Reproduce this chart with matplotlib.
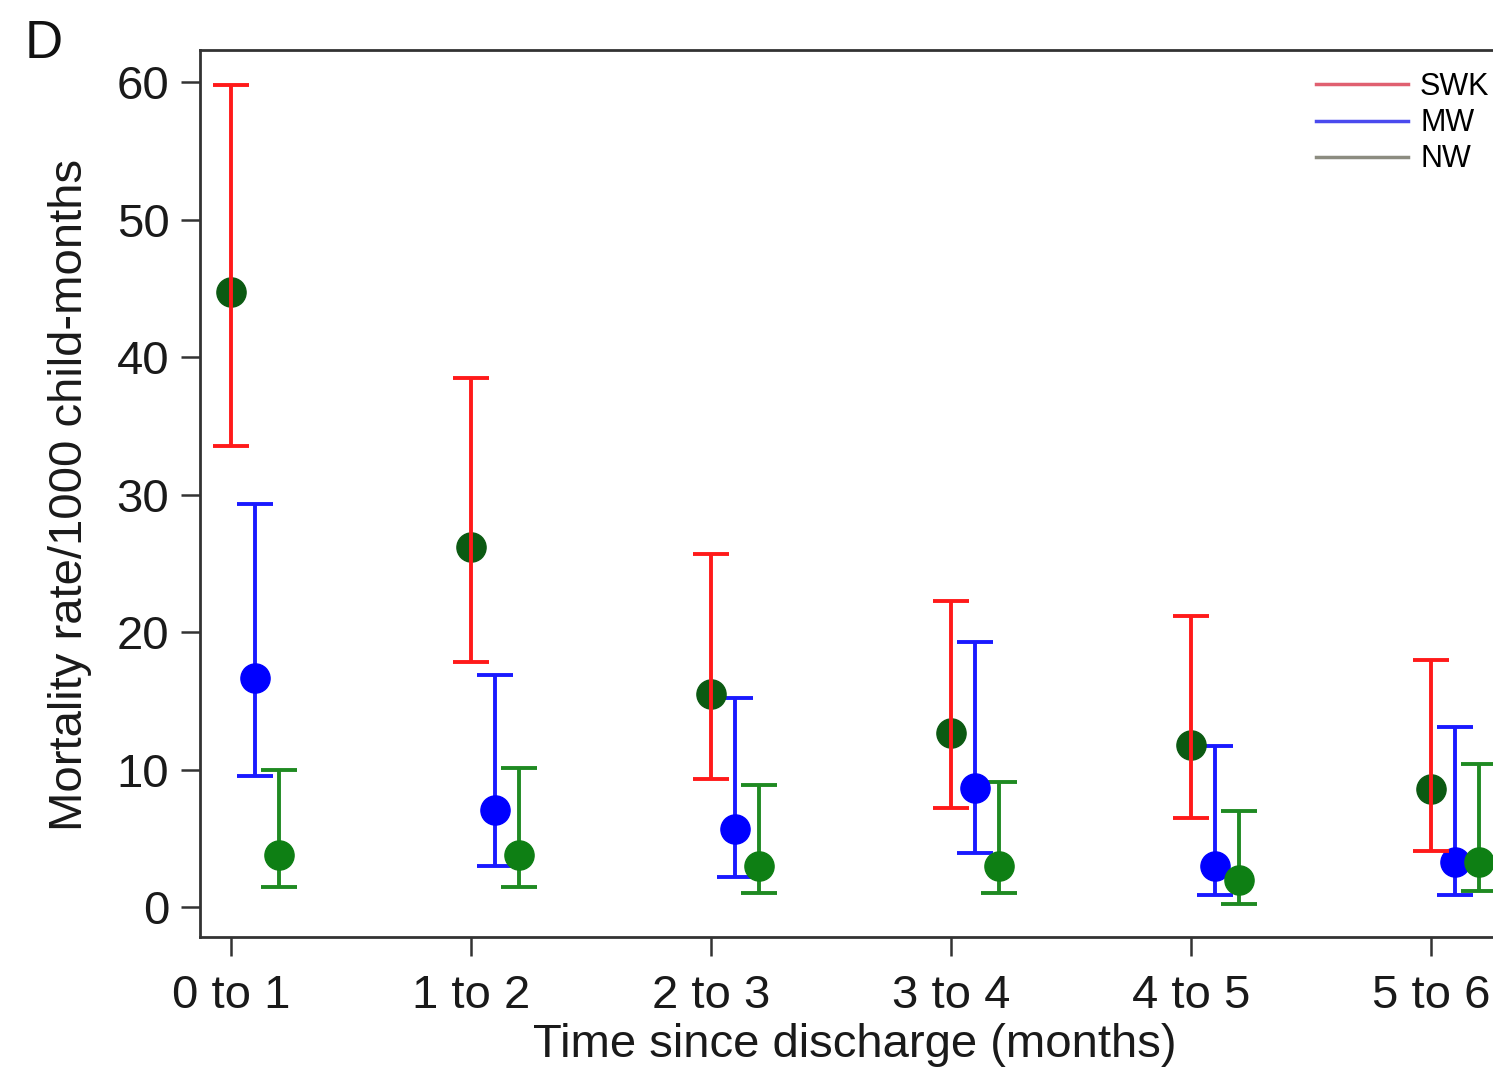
import matplotlib.pyplot as plt
from matplotlib.lines import Line2D

plt.rcParams['font.family'] = ['Liberation Sans', 'DejaVu Sans']

categories = ['0 to 1', '1 to 2', '2 to 3', '3 to 4', '4 to 5', '5 to 6']

swk_rate = [44.7, 26.2, 15.5, 12.65, 11.8, 8.6]
swk_low = [33.5, 17.8, 9.3, 7.2, 6.5, 4.1]
swk_high = [59.8, 38.5, 25.7, 22.25, 21.2, 18.0]

mw_rate = [16.65, 7.05, 5.7, 8.65, 3.0, 3.3]
mw_low = [9.5, 3.0, 2.2, 3.9, 0.9, 0.9]
mw_high = [29.3, 16.9, 15.2, 19.3, 11.7, 13.1]

nw_rate = [3.8, 3.8, 3.0, 3.0, 2.0, 3.3]
nw_low = [1.45, 1.45, 1.0, 1.0, 0.2, 1.2]
nw_high = [10.0, 10.1, 8.9, 9.1, 7.0, 10.4]

fig = plt.figure(figsize=(14.93, 10.75), dpi=100)
# axes runs past the right edge, as in the cropped original
ax = fig.add_axes([200 / 1493, 138 / 1075, 1360 / 1493, 887 / 1075])

x = list(range(len(categories)))

series = [
    (swk_rate, swk_low, swk_high, 0.0, '#ff1a1a', '#0b5a12'),
    (mw_rate, mw_low, mw_high, 0.1, '#1a1aff', '#0000ff'),
    (nw_rate, nw_low, nw_high, 0.2, '#1f8a22', '#0e7f14'),
]

for rate, low, high, off, bar_col, dot_col in series:
    xs = [i + off for i in x]
    err = [[r - l for r, l in zip(rate, low)], [h - r for h, r in zip(high, rate)]]
    ax.plot(xs, rate, 'o', color=dot_col, markersize=21, zorder=2)
    ax.errorbar(xs, rate, yerr=err, fmt='none', ecolor=bar_col, elinewidth=2.8,
                capsize=13, capthick=2.8, zorder=3 if off == 0.0 else 1)

ax.set_xlim(-0.129, 5.5375)
ax.set_ylim(-2.18, 62.33)
ax.set_xticks(x)
ax.set_xticklabels(categories)
ax.set_yticks([0, 10, 20, 30, 40, 50, 60])
ax.tick_params(axis='both', direction='out', length=14, width=1.8, colors='#333333',
               labelsize=34, labelcolor='#1a1a1a', pad=8)
ax.tick_params(axis='x', pad=13)
for side in ['left', 'bottom', 'top', 'right']:
    ax.spines[side].set_linewidth(2)
    ax.spines[side].set_color('#333333')

ax.set_ylabel('Mortality rate/1000 child-months', fontsize=34, color='#1a1a1a')
ax.yaxis.set_label_coords(-(200 - 70) / 1360, (937 - 495) / 887)
ax.set_xlabel('Time since discharge (months)', fontsize=34, color='#1a1a1a')
ax.xaxis.set_label_coords((855 - 200) / 1360, -(1045 - 937) / 887)
ax.xaxis.label.set_va('center')
ax.yaxis.label.set_va('center')

handles = [Line2D([], [], color='#e06070', lw=2.5),
           Line2D([], [], color='#4a4aee', lw=2.5),
           Line2D([], [], color='#8c8c80', lw=2.5)]
fig.legend(handles, ['SWK', 'MW', 'NW'], loc='upper right', bbox_to_anchor=(1.01, 0.95),
           frameon=False, fontsize=22, handlelength=3.0, labelspacing=0.2, handletextpad=0.4,
           borderaxespad=0.2)

fig.text(25 / 1493, 1 - 58 / 1075, 'D', fontsize=38, color='#111111')

fig.savefig('out.png', dpi=100)
